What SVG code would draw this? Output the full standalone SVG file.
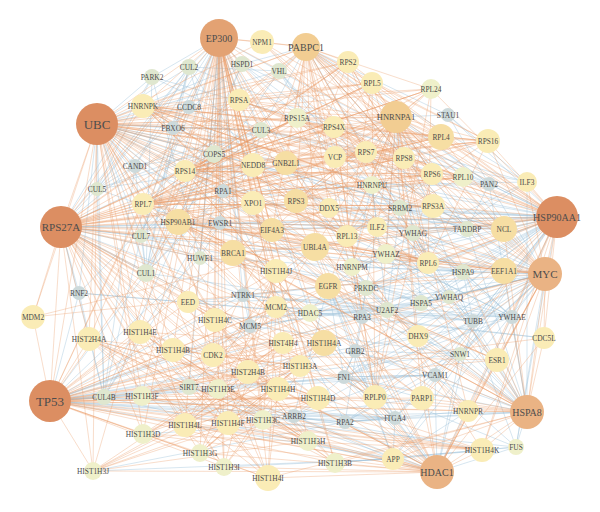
<svg xmlns="http://www.w3.org/2000/svg" width="600" height="512" viewBox="0 0 600 512">
<style>
.eb{fill:none;stroke:#95BDD8;stroke-width:0.7;stroke-opacity:0.55}
.eo{fill:none;stroke:#E99A66;stroke-width:0.75;stroke-opacity:0.45}
circle{stroke:none}
.c1{fill:#DC8E62}.c2{fill:#E3A273}.c2b{fill:#EAB384}.c3{fill:#F2CD92}.c4{fill:#F6DEA3}.c5{fill:#FAECB6}.c6{fill:#EFF0CA}.c7{fill:#DFE7CF}.c8{fill:#CDDADB}
text{font-family:"Liberation Serif","DejaVu Serif",serif;font-size:7.4px;fill:#4d4d4d;text-anchor:middle;dominant-baseline:central}
.b1{font-size:13px}.b2{font-size:11px}.b3{font-size:10px}.b4{font-size:8.5px}
</style>
<g id="connectors">
<path class="eb" d="M97 124L189 67M97 124L152 77M97 124L242 64M97 124L279 71M97 124L189 107M97 124L173 128M97 124L261 130M97 124L214 154M97 124L135 166M97 124L97 189M97 124L141 236M97 124L146 273M97 124L104 397M97 124L557 217M97 124L79 293M97 124L200 258M97 124L220 223M97 124L223 191M97 124L504 229M97 124L386 254M97 124L413 233"/>
<path class="eb" d="M61 227L97 189M61 227L141 236M61 227L146 273M61 227L79 293M61 227L104 397M61 227L189 67M61 227L152 77M61 227L135 166M61 227L557 217M61 227L214 154M61 227L200 258M61 227L220 223M61 227L189 387M61 227L250 326M61 227L243 295M61 227L504 229M61 227L463 272"/>
<path class="eb" d="M50 401L104 397M50 401L189 387M50 401L146 273M50 401L79 293M50 401L200 258M50 401L366 288M50 401L243 295M50 401L310 313M50 401L345 422M50 401L393 459M50 401L395 418M50 401L435 375M50 401L344 377M50 401L355 351M50 401L294 416M50 401L362 317M50 401L250 326M50 401L516 447M50 401L460 354M50 401L418 336M50 401L218 389"/>
<path class="eb" d="M557 217L489 184M557 217L512 317M557 217L473 321M557 217L463 272M557 217L467 229M557 217L448 115M557 217L421 303M557 217L449 297M557 217L413 233M557 217L386 254M557 217L400 208M557 217L372 185M557 217L329 208M557 217L516 447M557 217L460 354M557 217L435 375M557 217L395 418M557 217L393 459M557 217L352 267M557 217L366 288M557 217L387 310M557 217L362 317M557 217L355 351M557 217L344 377M557 217L242 64M557 217L279 71M557 217L261 130M557 217L253 203M557 217L272 230M557 217L220 223M557 217L223 191M557 217L375 397M557 217L310 313"/>
<path class="eb" d="M545 274L512 317M545 274L473 321M545 274L463 272M545 274L421 303M545 274L449 297M545 274L393 459M545 274L435 375M545 274L460 354M545 274L489 184M545 274L516 447M545 274L467 229M545 274L386 254M545 274L413 233M545 274L400 208M545 274L387 310M545 274L366 288M545 274L362 317M545 274L355 351M545 274L344 377M545 274L395 418M545 274L345 422M545 274L352 267M545 274L310 313"/>
<path class="eb" d="M527 412L516 447M527 412L435 375M527 412L460 354M527 412L473 321M527 412L512 317M527 412L421 303M527 412L463 272M527 412L345 422M527 412L395 418M527 412L355 351M527 412L344 377M527 412L449 297M527 412L386 254M527 412L413 233M527 412L467 229M527 412L527 182M527 412L489 184M527 412L294 416M527 412L366 288M527 412L387 310"/>
<path class="eb" d="M437 472L516 447M437 472L395 418M437 472L345 422M437 472L310 313M437 472L460 354M437 472L435 375M437 472L294 416M437 472L344 377M437 472L355 351M437 472L189 387M437 472L104 397M437 472L512 317M437 472L473 321"/>
<path class="eb" d="M219 38L242 64M219 38L279 71M219 38L261 130M219 38L214 154M219 38L189 107M219 38L189 67M219 38L152 77M219 38L173 128M219 38L135 166M219 38L310 313M219 38L366 288M219 38L189 387M219 38L223 191M219 38L220 223M219 38L243 295M219 38L250 326M219 38L200 258M219 38L146 273M219 38L141 236M219 38L97 189"/>
<path class="eb" d="M306 47L448 115M306 47L489 184M306 47L527 182M306 47L242 64M306 47L279 71M306 47L261 130M306 47L400 208M306 47L467 229M396 117L448 115M396 117L400 208M396 117L467 229M396 117L386 254M396 117L516 447M396 117L489 184M396 117L413 233"/>
<path class="eb" d="M189 67L253 165L261 130L214 154L146 273L135 166L261 130L97 189L253 165L141 236L214 154L104 397L253 165L146 273L189 67L214 154L135 166L104 397L261 130L141 236L146 273L173 128L189 107L141 236L200 258L152 77L146 273L279 71L189 67L135 166L97 189L214 154L79 293L104 397L97 189L189 67L173 128L261 130L152 77L97 189L242 64L146 273L223 191L220 223L200 258L243 295L250 326L189 387L104 397L141 236L189 67"/>
<path class="eb" d="M242 64L178 222L463 272L421 303L449 297L512 317L386 254L413 233L473 321L421 303L512 317L463 272L386 254L449 297L413 233L463 272L473 321L449 297L421 303L386 254L512 317L413 233L421 303L366 288L387 310L400 208L372 185L467 229L352 267L527 182L366 288L377 227L372 185L387 310L352 267L400 208L467 229L489 184L448 115L527 182L372 185L352 267L362 317L345 422L223 191L362 317L366 288L355 351L344 377L395 418L435 375L344 377L355 351L328 286L344 377L294 416L328 286L243 295L310 313L328 286L386 254"/>
<path class="eb" d="M253 203L504 229L220 223L467 229L200 258L463 272L188 302L449 297L250 326L421 303L215 320L387 310L243 295L473 321L276 307L512 317L310 313L544 338L362 317L460 354L355 351L435 375L344 377L422 398L294 416L395 418L345 422L468 411L393 459L516 447L335 463L482 450L294 416L393 459L395 418L328 286L393 459L355 351L395 418L344 377L516 447L435 375L345 422L460 354L294 416L473 321L344 377L512 317L355 351"/>
<path class="eb" d="M152 77L527 182M189 67L489 184M242 64L467 229M279 71L463 272M279 71L449 297M261 130L489 184M214 154L504 229M173 128L467 229M189 107L463 272M135 166L449 297M97 189L421 303M141 236L512 317M146 273L473 321M242 64L512 317M279 71L413 233M279 71L386 254M261 130L527 182M253 165L467 229M253 165L463 272M223 191L489 184M220 223L421 303M200 258L449 297M243 295L512 317M250 326L460 354M189 387L435 375M104 397L395 418M104 397L345 422M79 293L362 317M79 293L310 313M189 387L294 416M218 389L344 377M263 420L395 418M308 441L393 459M224 467L393 459M93 471L393 459M93 471L345 422M143 434L395 418"/>
<path class="eo" d="M97 124L219 38M97 124L262 42M97 124L306 47M97 124L348 62M97 124L372 83M97 124L431 89M97 124L239 100M97 124L297 118M97 124L396 117M97 124L334 127M97 124L441 137M97 124L366 152M97 124L335 157M97 124L404 158M97 124L253 165M97 124L286 163M97 124L185 171M97 124L432 174M97 124L253 203M97 124L296 201M97 124L433 206M97 124L143 204M97 124L178 222M97 124L272 230M97 124L347 236M97 124L315 247M97 124L233 253M97 124L428 263M97 124L328 286M97 124L188 302M97 124L33 317M97 124L215 320M97 124L140 332M97 124L89 339M97 124L173 350M97 124L213 355M97 124L248 372M97 124L142 396M97 124L143 434M97 124L93 471M97 124L185 425M97 124L228 423M97 124L278 389M97 124L324 343M97 124L283 343M97 124L545 274M97 124L463 177M97 124L488 141M97 124L276 271M97 124L61 227M97 124L50 401M97 124L143 106"/>
<path class="eo" d="M61 227L219 38M61 227L306 47M61 227L348 62M61 227L372 83M61 227L239 100M61 227L297 118M61 227L396 117M61 227L334 127M61 227L441 137M61 227L488 141M61 227L366 152M61 227L404 158M61 227L253 165M61 227L286 163M61 227L185 171M61 227L432 174M61 227L463 177M61 227L296 201M61 227L433 206M61 227L143 204M61 227L178 222M61 227L33 317M61 227L188 302M61 227L89 339M61 227L140 332M61 227L173 350M61 227L215 320M61 227L213 355M61 227L248 372M61 227L278 389M61 227L318 398M61 227L142 396M61 227L143 434M61 227L185 425M61 227L228 423M61 227L268 478M61 227L93 471M61 227L347 236M61 227L315 247M61 227L272 230M61 227L233 253M61 227L428 263M61 227L375 397M61 227L328 286M61 227L324 343M61 227L283 343M61 227L50 401M61 227L143 106M61 227L253 203M61 227L545 274M61 227L276 271M61 227L300 366M61 227L200 453M61 227L224 467M61 227L263 420M61 227L308 441"/>
<path class="eo" d="M50 401L33 317M50 401L89 339M50 401L140 332M50 401L173 350M50 401L142 396M50 401L143 434M50 401L93 471M50 401L185 425M50 401L228 423M50 401L213 355M50 401L248 372M50 401L215 320M50 401L219 38M50 401L233 253M50 401L437 472M50 401L527 412M50 401L557 217M50 401L545 274M50 401L328 286M50 401L278 389M50 401L318 398M50 401L375 397M50 401L422 398M50 401L263 420M50 401L308 441M50 401L268 478M50 401L335 463M50 401L497 360M50 401L188 302M50 401L468 411M50 401L482 450M50 401L200 453M50 401L224 467M50 401L300 366M50 401L324 343M50 401L283 343M50 401L276 271M50 401L143 204M50 401L178 222M50 401L544 338"/>
<path class="eo" d="M557 217L488 141M557 217L527 182M557 217L504 229M557 217L504 271M557 217L545 274M557 217L544 338M557 217L463 177M557 217L432 174M557 217L433 206M557 217L441 137M557 217L431 89M557 217L396 117M557 217L306 47M557 217L219 38M557 217L178 222M557 217L527 412M557 217L328 286M557 217L315 247M557 217L428 263M557 217L497 360M557 217L418 336M557 217L437 472M557 217L468 411M557 217L482 450M557 217L422 398M557 217L335 157M557 217L213 355M557 217L233 253M557 217L262 42M557 217L348 62M557 217L372 83M557 217L404 158M557 217L377 227M557 217L347 236M557 217L366 152M557 217L334 127"/>
<path class="eo" d="M545 274L504 229M545 274L504 271M545 274L527 182M545 274L544 338M545 274L428 263M545 274L433 206M545 274L262 42M545 274L219 38M545 274L437 472M545 274L527 412M545 274L468 411M545 274L497 360M545 274L418 336M545 274L422 398M545 274L482 450M545 274L315 247M545 274L328 286M545 274L375 397M545 274L463 177M545 274L432 174M545 274L441 137M545 274L488 141M545 274L396 117M545 274L213 355M545 274L233 253M545 274L306 47M545 274L347 236M545 274L377 227M545 274L324 343"/>
<path class="eo" d="M527 412L437 472M527 412L482 450M527 412L468 411M527 412L497 360M527 412L544 338M527 412L504 271M527 412L504 229M527 412L422 398M527 412L418 336M527 412L393 459M527 412L375 397M527 412L328 286M527 412L315 247M527 412L335 463M527 412L318 398M527 412L268 478M527 412L178 222M527 412L396 117M527 412L428 263M527 412L213 355M527 412L233 253M527 412L97 124M527 412L61 227"/>
<path class="eo" d="M437 472L482 450M437 472L393 459M437 472L335 463M437 472L268 478M437 472L308 441M437 472L318 398M437 472L375 397M437 472L422 398M437 472L468 411M437 472L497 360M437 472L263 420M437 472L228 423M437 472L224 467M437 472L200 453M437 472L93 471M437 472L185 425M437 472L143 434M437 472L545 274M437 472L544 338M437 472L418 336M437 472L213 355M437 472L324 343M437 472L283 343M437 472L219 38M437 472L233 253M437 472L278 389M437 472L248 372M437 472L300 366M437 472L142 396M437 472L218 389M437 472L328 286M437 472L315 247"/>
<path class="eo" d="M219 38L262 42M219 38L306 47M219 38L239 100M219 38L253 165M219 38L143 106M219 38L215 320M219 38L140 332M219 38L173 350M219 38L89 339M219 38L276 271M219 38L324 343M219 38L283 343M219 38L278 389M219 38L318 398M219 38L300 366M219 38L248 372M219 38L228 423M219 38L185 425M219 38L268 478M219 38L482 450M219 38L497 360M219 38L233 253M219 38L328 286M219 38L213 355M219 38L253 203M219 38L272 230M219 38L422 398M219 38L527 412M219 38L142 396M219 38L143 434M219 38L263 420M219 38L308 441M219 38L335 463M219 38L93 471M219 38L200 453M219 38L224 467M219 38L218 389M219 38L188 302M219 38L276 307"/>
<path class="eo" d="M306 47L348 62M306 47L372 83M306 47L239 100M306 47L297 118M306 47L396 117M306 47L334 127M306 47L441 137M306 47L366 152M306 47L404 158M306 47L432 174M306 47L463 177M306 47L296 201M306 47L433 206M306 47L347 236M306 47L428 263M306 47L375 397M306 47L185 171M306 47L143 204M306 47L504 229M306 47L504 271M306 47L143 106M306 47L372 185M306 47L329 208M306 47L272 230M306 47L286 163M306 47L488 141M306 47L431 89M306 47L262 42M306 47L335 157M306 47L253 203M306 47L315 247"/>
<path class="eo" d="M396 117L348 62M396 117L372 83M396 117L431 89M396 117L441 137M396 117L488 141M396 117L366 152M396 117L404 158M396 117L432 174M396 117L463 177M396 117L372 185M396 117L329 208M396 117L433 206M396 117L377 227M396 117L347 236M396 117L428 263M396 117L352 267M396 117L143 106M396 117L468 411M396 117L504 229M396 117L504 271M396 117L527 182M396 117L334 127M396 117L335 157M396 117L297 118M396 117L239 100M396 117L286 163M396 117L296 201M396 117L253 203M396 117L272 230M396 117L315 247M396 117L328 286M396 117L418 336M396 117L422 398M396 117L185 171M396 117L143 204M396 117L375 397"/>
<path class="eo" d="M348 62L296 201L441 137L143 204L404 158L239 100L432 174L185 171L372 83L347 236L488 141L286 163L431 89L375 397L334 127L428 263L297 118L433 206L143 204L463 177L239 100L366 152L185 171L334 127L488 141L296 201L428 263L372 83L432 174L347 236L348 62L404 158L286 163L441 137L297 118L463 177L296 201L366 152L431 89L185 171L433 206L348 62L143 204L432 174L375 397L372 83L334 127L404 158L347 236L239 100L441 137L488 141L428 263L366 152L262 42L433 206L334 127L375 397L185 171L431 89L428 263L335 157L404 158L463 177L347 236L297 118L432 174L296 201L431 89L239 100L372 83L488 141L366 152L433 206L143 204L297 118L348 62L428 263L185 171L404 158"/>
<path class="eo" d="M93 471L324 343L143 434L283 343L142 396L318 398L89 339L308 441L140 332L335 463L173 350L482 450L185 425L300 366L200 453L276 271L224 467L215 320L268 478L140 332L318 398L93 471L278 389L143 434L300 366L89 339L268 478L173 350L283 343L200 453L324 343L142 396L248 372L335 463L215 320L308 441L185 425L276 271L263 420L89 339L228 423L300 366L93 471L283 343L268 478L143 434L482 450L218 389L324 343L140 332L224 467L278 389L200 453L318 398L185 425L248 372L308 441L173 350L300 366L228 423L276 271L335 463L89 339L278 389L215 320L213 355L268 478L276 307L142 396L482 450L263 420L140 332L213 355L318 398L188 302L324 343L224 467L89 339L218 389L283 343L185 425L276 307L173 350L308 441L93 471L228 423L482 450"/>
<path class="eo" d="M328 286L233 253L315 247L178 222L328 286L213 355L272 230L428 263L253 203L418 336L253 165L497 360L233 253L422 398L178 222L504 229L296 201L504 271L286 163L468 411L315 247L33 317L328 286L276 271L253 203L377 227L272 230L329 208L233 253L143 204L315 247L375 397L188 302L215 320L315 247L213 355L497 360L328 286L504 271L178 222L253 203L185 171L272 230L143 106L296 201L233 253L276 307L315 247L418 336"/>
<path class="eo" d="M143 106L348 62M143 106L372 83M143 106L334 127M143 106L335 157M143 106L366 152M143 106L404 158M143 106L441 137M143 106L432 174M143 106L433 206M143 106L329 208M143 106L377 227M143 106L372 185M143 106L347 236M143 106L328 286M143 106L315 247M143 106L488 141M143 106L468 411M143 106L504 229M143 106L296 201M143 106L286 163"/>
<path class="eo" d="M143 204L334 127M143 204L366 152M143 204L441 137M143 204L488 141M143 204L432 174M143 204L433 206M143 204L463 177M143 204L347 236M143 204L428 263M143 204L372 83M143 204L348 62M143 204L297 118M143 204L286 163M143 204L375 397M185 171L334 127M185 171L366 152M185 171L441 137M185 171L488 141M185 171L432 174M185 171L463 177M185 171L347 236M185 171L428 263M185 171L372 83M185 171L348 62M185 171L297 118M185 171L431 89M185 171L375 397"/>
<path class="eo" d="M178 222L504 271M178 222L527 412M178 222L437 472M178 222L545 274M178 222L497 360M178 222L468 411M178 222L213 355M178 222L315 247M178 222L328 286M178 222L272 230M178 222L253 203M178 222L433 206M178 222L428 263"/>
</g>
<g id="n-EP300"><circle class="c2" cx="219" cy="38" r="19"/><text class="b3" x="219" y="38">EP300</text></g>
<g id="n-NPM1"><circle class="c5" cx="262" cy="42" r="12"/><text x="262" y="42">NPM1</text></g>
<g id="n-PABPC1"><circle class="c3" cx="306" cy="47" r="14"/><text class="b3" x="306" y="47">PABPC1</text></g>
<g id="n-HSPD1"><circle class="c7" cx="242" cy="64" r="8"/><text x="242" y="64">HSPD1</text></g>
<g id="n-VHL"><circle class="c7" cx="279" cy="71" r="8"/><text x="279" y="71">VHL</text></g>
<g id="n-RPS2"><circle class="c5" cx="348" cy="62" r="11"/><text x="348" y="62">RPS2</text></g>
<g id="n-CUL2"><circle class="c7" cx="189" cy="67" r="8"/><text x="189" y="67">CUL2</text></g>
<g id="n-PARK2"><circle class="c7" cx="152" cy="77" r="8"/><text x="152" y="77">PARK2</text></g>
<g id="n-RPL5"><circle class="c5" cx="372" cy="83" r="11"/><text x="372" y="83">RPL5</text></g>
<g id="n-RPL24"><circle class="c6" cx="431" cy="89" r="10"/><text x="431" y="89">RPL24</text></g>
<g id="n-HNRNPK"><circle class="c5" cx="143" cy="106" r="12"/><text x="143" y="106">HNRNPK</text></g>
<g id="n-CCDC8"><circle class="c8" cx="189" cy="107" r="7"/><text x="189" y="107">CCDC8</text></g>
<g id="n-RPSA"><circle class="c5" cx="239" cy="100" r="11"/><text x="239" y="100">RPSA</text></g>
<g id="n-RPS15A"><circle class="c6" cx="297" cy="118" r="10"/><text x="297" y="118">RPS15A</text></g>
<g id="n-HNRNPA1"><circle class="c3" cx="396" cy="117" r="16"/><text class="b4" x="396" y="117">HNRNPA1</text></g>
<g id="n-STAU1"><circle class="c8" cx="448" cy="115" r="7"/><text x="448" y="115">STAU1</text></g>
<g id="n-UBC"><circle class="c1" cx="97" cy="124" r="21"/><text class="b1" x="97" y="124">UBC</text></g>
<g id="n-FBXO6"><circle class="c8" cx="173" cy="128" r="7"/><text x="173" y="128">FBXO6</text></g>
<g id="n-CUL3"><circle class="c7" cx="261" cy="130" r="8"/><text x="261" y="130">CUL3</text></g>
<g id="n-RPS4X"><circle class="c5" cx="334" cy="127" r="11"/><text x="334" y="127">RPS4X</text></g>
<g id="n-RPL4"><circle class="c4" cx="441" cy="137" r="13"/><text x="441" y="137">RPL4</text></g>
<g id="n-RPS16"><circle class="c5" cx="488" cy="141" r="12"/><text x="488" y="141">RPS16</text></g>
<g id="n-COPS5"><circle class="c7" cx="214" cy="154" r="9"/><text x="214" y="154">COPS5</text></g>
<g id="n-RPS7"><circle class="c5" cx="366" cy="152" r="11"/><text x="366" y="152">RPS7</text></g>
<g id="n-VCP"><circle class="c5" cx="335" cy="157" r="11"/><text x="335" y="157">VCP</text></g>
<g id="n-RPS8"><circle class="c5" cx="404" cy="158" r="11"/><text x="404" y="158">RPS8</text></g>
<g id="n-NEDD8"><circle class="c5" cx="253" cy="165" r="12"/><text x="253" y="165">NEDD8</text></g>
<g id="n-GNB2L1"><circle class="c4" cx="286" cy="163" r="12"/><text x="286" y="163">GNB2L1</text></g>
<g id="n-CAND1"><circle class="c8" cx="135" cy="166" r="7"/><text x="135" y="166">CAND1</text></g>
<g id="n-RPS14"><circle class="c5" cx="185" cy="171" r="11"/><text x="185" y="171">RPS14</text></g>
<g id="n-RPS6"><circle class="c5" cx="432" cy="174" r="11"/><text x="432" y="174">RPS6</text></g>
<g id="n-RPL10"><circle class="c6" cx="463" cy="177" r="10"/><text x="463" y="177">RPL10</text></g>
<g id="n-ILF3"><circle class="c5" cx="527" cy="182" r="10"/><text x="527" y="182">ILF3</text></g>
<g id="n-PAN2"><circle class="c8" cx="489" cy="184" r="7"/><text x="489" y="184">PAN2</text></g>
<g id="n-HNRNPU"><circle class="c6" cx="372" cy="185" r="9"/><text x="372" y="185">HNRNPU</text></g>
<g id="n-CUL5"><circle class="c7" cx="97" cy="189" r="7"/><text x="97" y="189">CUL5</text></g>
<g id="n-RPA1"><circle class="c8" cx="223" cy="191" r="7"/><text x="223" y="191">RPA1</text></g>
<g id="n-XPO1"><circle class="c5" cx="253" cy="203" r="12"/><text x="253" y="203">XPO1</text></g>
<g id="n-RPS3"><circle class="c4" cx="296" cy="201" r="12"/><text x="296" y="201">RPS3</text></g>
<g id="n-DDX5"><circle class="c5" cx="329" cy="208" r="10"/><text x="329" y="208">DDX5</text></g>
<g id="n-SRRM2"><circle class="c7" cx="400" cy="208" r="8"/><text x="400" y="208">SRRM2</text></g>
<g id="n-RPS3A"><circle class="c5" cx="433" cy="206" r="12"/><text x="433" y="206">RPS3A</text></g>
<g id="n-RPL7"><circle class="c5" cx="143" cy="204" r="11"/><text x="143" y="204">RPL7</text></g>
<g id="n-HSP90AA1"><circle class="c1" cx="557" cy="217" r="21"/><text class="b3" x="557" y="217">HSP90AA1</text></g>
<g id="n-HSP90AB1"><circle class="c4" cx="178" cy="222" r="13"/><text x="178" y="222">HSP90AB1</text></g>
<g id="n-EWSR1"><circle class="c8" cx="220" cy="223" r="7"/><text x="220" y="223">EWSR1</text></g>
<g id="n-RPS27A"><circle class="c1" cx="61" cy="227" r="21"/><text class="b2" x="61" y="227">RPS27A</text></g>
<g id="n-ILF2"><circle class="c5" cx="377" cy="227" r="10"/><text x="377" y="227">ILF2</text></g>
<g id="n-EIF4A3"><circle class="c4" cx="272" cy="230" r="12"/><text x="272" y="230">EIF4A3</text></g>
<g id="n-YWHAG"><circle class="c7" cx="413" cy="233" r="8"/><text x="413" y="233">YWHAG</text></g>
<g id="n-TARDBP"><circle class="c7" cx="467" cy="229" r="8"/><text x="467" y="229">TARDBP</text></g>
<g id="n-NCL"><circle class="c4" cx="504" cy="229" r="13"/><text x="504" y="229">NCL</text></g>
<g id="n-CUL7"><circle class="c7" cx="141" cy="236" r="7"/><text x="141" y="236">CUL7</text></g>
<g id="n-RPL13"><circle class="c5" cx="347" cy="236" r="11"/><text x="347" y="236">RPL13</text></g>
<g id="n-UBL4A"><circle class="c4" cx="315" cy="247" r="14"/><text x="315" y="247">UBL4A</text></g>
<g id="n-BRCA1"><circle class="c4" cx="233" cy="253" r="13"/><text x="233" y="253">BRCA1</text></g>
<g id="n-YWHAZ"><circle class="c6" cx="386" cy="254" r="10"/><text x="386" y="254">YWHAZ</text></g>
<g id="n-HUWE1"><circle class="c7" cx="200" cy="258" r="7"/><text x="200" y="258">HUWE1</text></g>
<g id="n-RPL6"><circle class="c5" cx="428" cy="263" r="11"/><text x="428" y="263">RPL6</text></g>
<g id="n-HNRNPM"><circle class="c6" cx="352" cy="267" r="9"/><text x="352" y="267">HNRNPM</text></g>
<g id="n-HIST1H4J"><circle class="c5" cx="276" cy="271" r="12"/><text x="276" y="271">HIST1H4J</text></g>
<g id="n-HSPA9"><circle class="c7" cx="463" cy="272" r="8"/><text x="463" y="272">HSPA9</text></g>
<g id="n-EEF1A1"><circle class="c4" cx="504" cy="271" r="13"/><text x="504" y="271">EEF1A1</text></g>
<g id="n-MYC"><circle class="c2b" cx="545" cy="274" r="17"/><text class="b2" x="545" y="274">MYC</text></g>
<g id="n-CUL1"><circle class="c7" cx="146" cy="273" r="9"/><text x="146" y="273">CUL1</text></g>
<g id="n-EGFR"><circle class="c4" cx="328" cy="286" r="13"/><text x="328" y="286">EGFR</text></g>
<g id="n-PRKDC"><circle class="c7" cx="366" cy="288" r="8"/><text x="366" y="288">PRKDC</text></g>
<g id="n-RNF2"><circle class="c8" cx="79" cy="293" r="7"/><text x="79" y="293">RNF2</text></g>
<g id="n-NTRK1"><circle class="c8" cx="243" cy="295" r="7"/><text x="243" y="295">NTRK1</text></g>
<g id="n-YWHAQ"><circle class="c7" cx="449" cy="297" r="7"/><text x="449" y="297">YWHAQ</text></g>
<g id="n-EED"><circle class="c5" cx="188" cy="302" r="11"/><text x="188" y="302">EED</text></g>
<g id="n-HSPA5"><circle class="c7" cx="421" cy="303" r="8"/><text x="421" y="303">HSPA5</text></g>
<g id="n-MCM2"><circle class="c5" cx="276" cy="307" r="11"/><text x="276" y="307">MCM2</text></g>
<g id="n-HDAC5"><circle class="c6" cx="310" cy="313" r="9"/><text x="310" y="313">HDAC5</text></g>
<g id="n-U2AF2"><circle class="c7" cx="387" cy="310" r="8"/><text x="387" y="310">U2AF2</text></g>
<g id="n-RPA3"><circle class="c8" cx="362" cy="317" r="7"/><text x="362" y="317">RPA3</text></g>
<g id="n-MDM2"><circle class="c5" cx="33" cy="317" r="12"/><text x="33" y="317">MDM2</text></g>
<g id="n-YWHAE"><circle class="c8" cx="512" cy="317" r="7"/><text x="512" y="317">YWHAE</text></g>
<g id="n-TUBB"><circle class="c8" cx="473" cy="321" r="7"/><text x="473" y="321">TUBB</text></g>
<g id="n-HIST1H4C"><circle class="c5" cx="215" cy="320" r="12"/><text x="215" y="320">HIST1H4C</text></g>
<g id="n-MCM5"><circle class="c8" cx="250" cy="326" r="7"/><text x="250" y="326">MCM5</text></g>
<g id="n-HIST1H4E"><circle class="c5" cx="140" cy="332" r="12"/><text x="140" y="332">HIST1H4E</text></g>
<g id="n-DHX9"><circle class="c5" cx="418" cy="336" r="11"/><text x="418" y="336">DHX9</text></g>
<g id="n-CDC5L"><circle class="c5" cx="544" cy="338" r="11"/><text x="544" y="338">CDC5L</text></g>
<g id="n-HIST2H4A"><circle class="c5" cx="89" cy="339" r="12"/><text x="89" y="339">HIST2H4A</text></g>
<g id="n-HIST4H4"><circle class="c5" cx="283" cy="343" r="11"/><text x="283" y="343">HIST4H4</text></g>
<g id="n-HIST1H4A"><circle class="c4" cx="324" cy="343" r="13"/><text x="324" y="343">HIST1H4A</text></g>
<g id="n-HIST1H4B"><circle class="c5" cx="173" cy="350" r="12"/><text x="173" y="350">HIST1H4B</text></g>
<g id="n-GRB2"><circle class="c8" cx="355" cy="351" r="7"/><text x="355" y="351">GRB2</text></g>
<g id="n-SNW1"><circle class="c7" cx="460" cy="354" r="7"/><text x="460" y="354">SNW1</text></g>
<g id="n-CDK2"><circle class="c5" cx="213" cy="355" r="12"/><text x="213" y="355">CDK2</text></g>
<g id="n-ESR1"><circle class="c5" cx="497" cy="360" r="12"/><text x="497" y="360">ESR1</text></g>
<g id="n-HIST1H3A"><circle class="c5" cx="300" cy="366" r="11"/><text x="300" y="366">HIST1H3A</text></g>
<g id="n-HIST2H4B"><circle class="c5" cx="248" cy="372" r="12"/><text x="248" y="372">HIST2H4B</text></g>
<g id="n-FN1"><circle class="c8" cx="344" cy="377" r="7"/><text x="344" y="377">FN1</text></g>
<g id="n-VCAM1"><circle class="c8" cx="435" cy="375" r="7"/><text x="435" y="375">VCAM1</text></g>
<g id="n-SIRT7"><circle class="c7" cx="189" cy="387" r="8"/><text x="189" y="387">SIRT7</text></g>
<g id="n-HIST1H3E"><circle class="c6" cx="218" cy="389" r="10"/><text x="218" y="389">HIST1H3E</text></g>
<g id="n-HIST1H4H"><circle class="c5" cx="278" cy="389" r="12"/><text x="278" y="389">HIST1H4H</text></g>
<g id="n-CUL4B"><circle class="c7" cx="104" cy="397" r="8"/><text x="104" y="397">CUL4B</text></g>
<g id="n-HIST1H3F"><circle class="c6" cx="142" cy="396" r="10"/><text x="142" y="396">HIST1H3F</text></g>
<g id="n-HIST1H4D"><circle class="c5" cx="318" cy="398" r="12"/><text x="318" y="398">HIST1H4D</text></g>
<g id="n-RPLP0"><circle class="c5" cx="375" cy="397" r="12"/><text x="375" y="397">RPLP0</text></g>
<g id="n-PARP1"><circle class="c5" cx="422" cy="398" r="12"/><text x="422" y="398">PARP1</text></g>
<g id="n-TP53"><circle class="c1" cx="50" cy="401" r="21"/><text class="b1" x="50" y="401">TP53</text></g>
<g id="n-HNRNPR"><circle class="c5" cx="468" cy="411" r="11"/><text x="468" y="411">HNRNPR</text></g>
<g id="n-HSPA8"><circle class="c2b" cx="527" cy="412" r="17"/><text class="b3" x="527" y="412">HSPA8</text></g>
<g id="n-ITGA4"><circle class="c8" cx="395" cy="418" r="7"/><text x="395" y="418">ITGA4</text></g>
<g id="n-HIST1H3C"><circle class="c6" cx="263" cy="420" r="10"/><text x="263" y="420">HIST1H3C</text></g>
<g id="n-ARRB2"><circle class="c8" cx="294" cy="416" r="7"/><text x="294" y="416">ARRB2</text></g>
<g id="n-RPA2"><circle class="c8" cx="345" cy="422" r="7"/><text x="345" y="422">RPA2</text></g>
<g id="n-HIST1H4F"><circle class="c5" cx="228" cy="423" r="12"/><text x="228" y="423">HIST1H4F</text></g>
<g id="n-HIST1H4L"><circle class="c5" cx="185" cy="425" r="12"/><text x="185" y="425">HIST1H4L</text></g>
<g id="n-HIST1H3D"><circle class="c6" cx="143" cy="434" r="10"/><text x="143" y="434">HIST1H3D</text></g>
<g id="n-HIST1H3H"><circle class="c6" cx="308" cy="441" r="10"/><text x="308" y="441">HIST1H3H</text></g>
<g id="n-FUS"><circle class="c6" cx="516" cy="447" r="8"/><text x="516" y="447">FUS</text></g>
<g id="n-HIST1H4K"><circle class="c5" cx="482" cy="450" r="12"/><text x="482" y="450">HIST1H4K</text></g>
<g id="n-HIST1H3G"><circle class="c6" cx="200" cy="453" r="9"/><text x="200" y="453">HIST1H3G</text></g>
<g id="n-APP"><circle class="c5" cx="393" cy="459" r="11"/><text x="393" y="459">APP</text></g>
<g id="n-HIST1H3B"><circle class="c6" cx="335" cy="463" r="10"/><text x="335" y="463">HIST1H3B</text></g>
<g id="n-HIST1H3I"><circle class="c6" cx="224" cy="467" r="9"/><text x="224" y="467">HIST1H3I</text></g>
<g id="n-HIST1H3J"><circle class="c6" cx="93" cy="471" r="9"/><text x="93" y="471">HIST1H3J</text></g>
<g id="n-HDAC1"><circle class="c2b" cx="437" cy="472" r="17"/><text class="b3" x="437" y="472">HDAC1</text></g>
<g id="n-HIST1H4I"><circle class="c5" cx="268" cy="478" r="13"/><text x="268" y="478">HIST1H4I</text></g>
</svg>
